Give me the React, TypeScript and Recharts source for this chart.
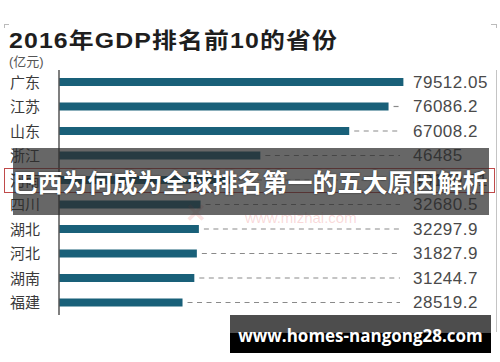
import React from "react";
import { BarChart, Bar, XAxis, YAxis, LabelList } from "recharts";

const provinces = ["广东", "江苏", "山东", "浙江", "河南", "四川", "湖北", "河北", "湖南", "福建"];
const gdpValues = [79512.05, 76086.2, 67008.2, 46485, 40160.01, 32680.5, 32297.9, 31827.9, 31244.7, 28519.2];
const valueLabels = ["79512.05", "76086.2", "67008.2", "46485", "40160.01", "32680.5", "32297.9", "31827.9", "31244.7", "28519.2"];

const titleText = "2016年GDP排名前10的省份";
const unitText = "(亿元)";
const sourceText = "资料来源：国家统计局";
const bannerText = "巴西为何成为全球排名第一的五大原因解析";
const watermarkText = "www.homes-nangong28.com";
const faintMark = "www.mizhai.com";

const data = provinces.map((p, i) => ({ name: p, value: gdpValues[i], label: valueLabels[i] }));

const FONT = '"Liberation Sans", "Noto Sans CJK SC", sans-serif';

const CategoryTick = (props: any) => {
  const { y, payload } = props;
  return (
    <text x={10} y={y} dominantBaseline="central" textAnchor="start" fill="#3a3a3a" fontSize={15} fontFamily={FONT}>
      {payload.value}
    </text>
  );
};

const ValueLabel = (props: any) => {
  const { x, y, width, height, index } = props;
  const end = Number(x) + Number(width);
  const cy = Number(y) + Number(height) / 2;
  const dashStart = end + 5;
  return (
    <g>
      {dashStart < 400 && (
        <line x1={dashStart} x2={400} y1={cy} y2={cy} stroke="#8a8a8a" strokeWidth={1.2} strokeDasharray="5 4.5" />
      )}
      <text x={413} y={cy} dominantBaseline="central" fill="#4a4a4a" fontSize={17} fontFamily={FONT} letterSpacing={0.5}>
        {valueLabels[index]}
      </text>
    </g>
  );
};

export default function App() {
  return (
    <div style={{ position: "absolute", left: 0, top: 0, width: 500, height: 362, background: "#fff", overflow: "hidden", fontFamily: FONT }}>
      {/* frame marks */}
      <div style={{ position: "absolute", left: 4, top: 24, width: 5, height: 1, background: "#bbb" }} />
      <div style={{ position: "absolute", left: 4, top: 24, width: 1, height: 4, background: "#bbb" }} />
      <div style={{ position: "absolute", left: 491, top: 24, width: 5, height: 1, background: "#bbb" }} />
      <div style={{ position: "absolute", left: 496, top: 24, width: 1, height: 4, background: "#bbb" }} />
      <div style={{ position: "absolute", left: 496, top: 70, width: 1, height: 262, background: "#c4c4c4" }} />

      <div style={{ position: "absolute", left: 9, top: 29, fontSize: 22, fontWeight: 700, color: "#1e1e1e", letterSpacing: 1, whiteSpace: "nowrap", lineHeight: "24px", transform: "scaleX(1.13)", transformOrigin: "0 0" }}>
        {titleText}
      </div>
      <div style={{ position: "absolute", left: 9, top: 54, fontSize: 13, color: "#555", whiteSpace: "nowrap", lineHeight: "16px" }}>
        {unitText}
      </div>

      <div style={{ position: "absolute", left: 0, top: 0 }}>
        <BarChart
          width={500}
          height={362}
          data={data}
          layout="vertical"
          margin={{ top: 70, right: 94.5, bottom: 47, left: 0 }}
          barCategoryGap={0}
        >
          <XAxis type="number" domain={[0, 80000]} hide />
          <YAxis
            type="category"
            dataKey="name"
            width={59}
            tick={<CategoryTick />}
            tickLine={false}
            axisLine={{ stroke: "#555", strokeWidth: 1.5 }}
            interval={0}
          />
          <Bar dataKey="value" fill="#196079" barSize={8} isAnimationActive={false}>
            <LabelList dataKey="value" content={<ValueLabel />} />
          </Bar>
        </BarChart>
      </div>

      {/* faint watermark */}
      <div style={{ position: "absolute", left: 245, top: 209, fontSize: 15, color: "rgba(235,120,120,0.28)", whiteSpace: "nowrap" }}>
        {faintMark}
      </div>
      <div style={{ position: "absolute", left: 185, top: 200, fontSize: 26, fontWeight: 700, color: "rgba(235,80,80,0.18)", lineHeight: "26px" }}>
        ✕
      </div>

      <div style={{ position: "absolute", left: 322, top: 312, fontSize: 15, color: "#555", whiteSpace: "nowrap", letterSpacing: 0.5 }}>
        {sourceText}
      </div>

      {/* red outline row */}
      <div style={{ position: "absolute", left: 4, top: 168, width: 491, height: 25, border: "1.5px solid #c04a4a", boxSizing: "border-box" }} />

      {/* banner overlay */}
      <div style={{ position: "absolute", left: 13, top: 148, width: 476, height: 67, background: "rgba(45,45,45,0.72)" }} />
      <div style={{ position: "absolute", left: 0, top: 165, width: 500, textAlign: "center", fontSize: 25, fontWeight: 700, color: "#fff", whiteSpace: "nowrap", lineHeight: "32px", fontFamily: '"Noto Sans CJK SC", sans-serif', textShadow: "0 0 2px rgba(0,0,0,0.6)" }}>
        {bannerText}
      </div>

      {/* bottom watermark */}
      <div style={{ position: "absolute", left: 230, top: 315, width: 261, height: 38, background: "#000" }} />
      <div style={{ position: "absolute", left: 230, top: 315, width: 261, height: 18, background: "rgba(90,90,90,0.85)" }} />
      <div style={{ position: "absolute", left: 230, top: 325, width: 261, textAlign: "center", fontSize: 17, fontWeight: 700, color: "#fff", whiteSpace: "nowrap", lineHeight: "22px", fontFamily: '"Open Sans", sans-serif' }}>
        {watermarkText}
      </div>
    </div>
  );
}
